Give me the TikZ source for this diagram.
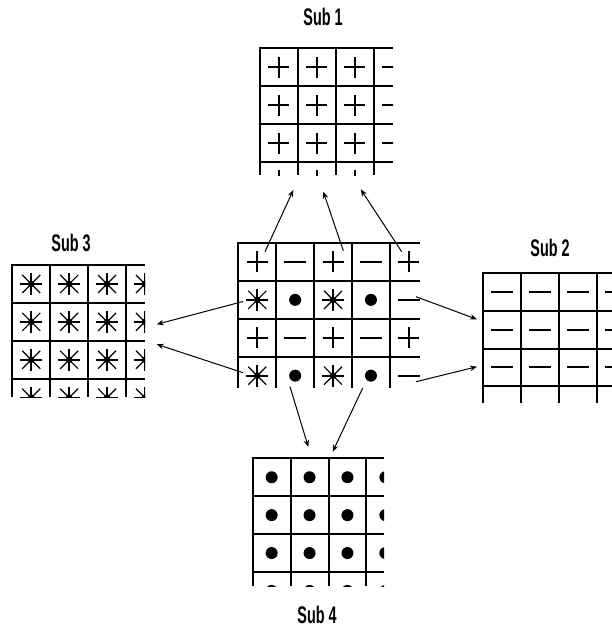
\documentclass[tikz,border=0pt]{standalone}
\usepackage{fontspec}
\usepackage{graphicx}
\setmainfont{Liberation Sans}
\usetikzlibrary{arrows.meta}
\tikzset{
  gridline/.style={line width=2pt, black},
  symline/.style={line width=2pt, black},
  conn/.style={line width=1pt, -{Stealth[length=7pt,width=5.5pt]}},
  sublabel/.style={inner sep=0pt, font=\fontsize{24}{24}\selectfont\bfseries},
  pics/plus/.style={code={\draw[symline] (-10.5,0) -- (10.5,0) (0,-10.5) -- (0,10.5);}},
  pics/dash/.style={code={\draw[symline] (-11,0) -- (11,0);}},
  pics/dot/.style={code={\fill (0,0) circle (6pt);}},
  pics/star/.style={code={\draw[line width=2pt] (-11,0) -- (11,0) (0,-11) -- (0,11);
      \draw[line width=1.2pt] (-9,-9) -- (9,9) (-9,9) -- (9,-9);
      \fill (0,0) circle (3.3pt);}},
}
\newcommand\cs{37.9}
\newcommand\gridlines[6]{% x0, y0, xend, yend, ncols, nrows
  \foreach \i in {0,...,#5} \draw[gridline] ({#1+\i*\cs},{#2-1}) -- ({#1+\i*\cs},#4);
  \foreach \j in {0,...,#6} \draw[gridline] ({#1-1},{#2+\j*\cs}) -- (#3,{#2+\j*\cs});}
\newcommand\sublab[1]{\scalebox{0.6}[1]{#1}}
\begin{document}
\begin{tikzpicture}[x=1pt,y=-1pt]
\useasboundingbox (0,0) rectangle (612,629);
\fill[white] (0,0) rectangle (612,629);

% ---- Sub 1 ----
\begin{scope}
  \clip (258.5,46.8) rectangle (393,175);
  \gridlines{260}{48.3}{393}{175}{4}{4}
  \foreach \c in {1,2,3} \foreach \r in {1,...,4}
    \pic at ({260+(\c-0.5)*\cs},{48.3+(\r-0.5)*\cs}) {plus};
  \foreach \r in {1,2,3}
    \pic at ({260+3.5*\cs},{48.3+(\r-0.5)*\cs}) {dash};
\end{scope}
\node[sublabel] (l1) at (323,17) {\sublab{Sub 1}};

% ---- Centre ----
\begin{scope}
  \clip (236.8,241.5) rectangle (420,388);
  \gridlines{238.3}{243}{420}{388}{5}{4}
  \foreach \r in {1,3} {
    \foreach \c in {1,3,5} \pic at ({238.3+(\c-0.5)*\cs},{243+(\r-0.5)*\cs}) {plus};
    \foreach \c in {2,4} \pic at ({238.3+(\c-0.5)*\cs},{243+(\r-0.5)*\cs}) {dash};
  }
  \foreach \r in {2,4} {
    \foreach \c in {1,3} \pic at ({238.3+(\c-0.5)*\cs},{243+(\r-0.5)*\cs}) {star};
    \foreach \c in {2,4} \pic at ({238.3+(\c-0.5)*\cs},{243+(\r-0.5)*\cs}) {dot};
    \pic at ({238.3+4.5*\cs},{243+(\r-0.5)*\cs}) {dash};
  }
\end{scope}

% ---- Sub 3 ----
\begin{scope}
  \clip (10.8,263.5) rectangle (145,397);
  \gridlines{12.3}{265}{145}{397}{4}{4}
  \foreach \c in {1,...,4} \foreach \r in {1,...,4}
    \pic at ({12.3+(\c-0.5)*\cs},{265+(\r-0.5)*\cs}) {star};
\end{scope}
\node[sublabel] (l3) at (71,243) {\sublab{Sub 3}};

% ---- Sub 2 ----
\begin{scope}
  \clip (481.8,271.2) rectangle (612,403);
  \gridlines{483.3}{272.7}{612}{403}{4}{4}
  \foreach \c in {1,...,4} \foreach \r in {1,...,4}
    \pic at ({483.3+(\c-0.5)*\cs},{272.7+(\r-0.5)*\cs}) {dash};
\end{scope}
\node[sublabel] (l2) at (550,248) {\sublab{Sub 2}};

% ---- Sub 4 ----
\begin{scope}
  \clip (251.2,456.8) rectangle (384,586);
  \gridlines{252.7}{458.3}{384}{586}{4}{4}
  \foreach \c in {1,...,4} \foreach \r in {1,...,4}
    \pic at ({252.7+(\c-0.5)*\cs},{458.3+(\r-0.5)*\cs}) {dot};
\end{scope}
\node[sublabel] (l4) at (317,615) {\sublab{Sub 4}};

% ---- connector end points ----
\coordinate (a1s) at (265,251.7);   \coordinate (a1e) at (293.3,190);
\coordinate (a2s) at (343.3,250.7); \coordinate (a2e) at (323.3,191.7);
\coordinate (a3s) at (401.7,251.7); \coordinate (a3e) at (360.7,189.3);
\coordinate (b1s) at (243,301.5);   \coordinate (b1e) at (156.7,324.3);
\coordinate (b2s) at (243,372.7);   \coordinate (b2e) at (156.7,344.3);
\coordinate (c1s) at (416,296.7);   \coordinate (c1e) at (477,319.3);
\coordinate (c2s) at (416,381.7);   \coordinate (c2e) at (477,366.7);
\coordinate (d1s) at (290,386.7);   \coordinate (d1e) at (308.3,447);
\coordinate (d2s) at (362.7,388);   \coordinate (d2e) at (332.7,451.7);

\draw[conn] (a1s) -- (a1e);
\draw[conn] (a2s) -- (a2e);
\draw[conn] (a3s) -- (a3e);
\draw[conn] (b1s) -- (b1e);
\draw[conn] (b2s) -- (b2e);
\draw[conn] (c1s) -- (c1e);
\draw[conn] (c2s) -- (c2e);
\draw[conn] (d1s) -- (d1e);
\draw[conn] (d2s) -- (d2e);
\end{tikzpicture}
\end{document}
